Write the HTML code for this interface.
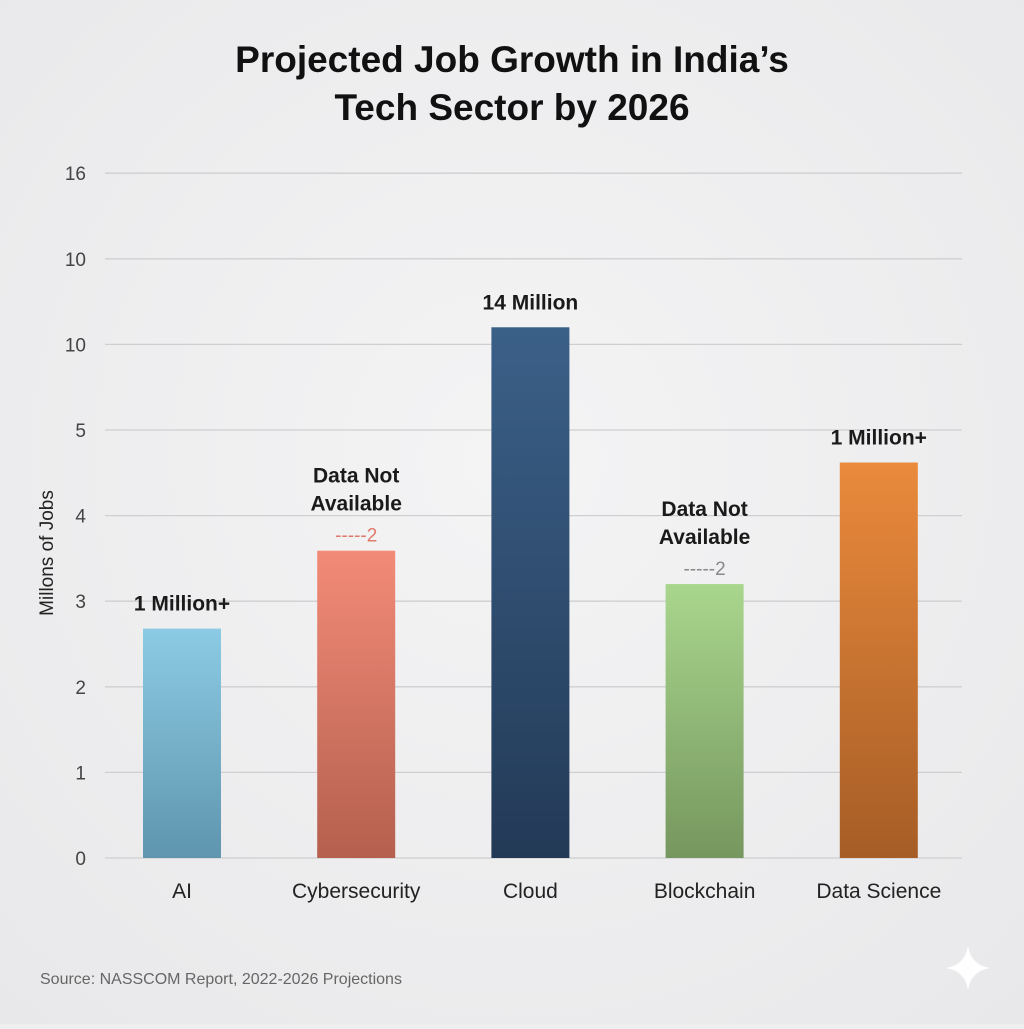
<!DOCTYPE html>
<html><head><meta charset="utf-8"><style>
body{margin:0;width:1024px;height:1024px;background:#efeff0;font-family:"Liberation Sans",sans-serif;overflow:hidden}
</style></head><body>
<svg width="1024" height="1024" id="c">
<defs>
<radialGradient id="bg" cx="50%" cy="45%" r="75%"><stop offset="0" stop-color="#f4f4f5"/><stop offset="1" stop-color="#e8e8ea"/></radialGradient>
<linearGradient id="g0" x1="0" y1="0" x2="0" y2="1"><stop offset="0" stop-color="#8ccbe4"/><stop offset="1" stop-color="#5f95ae"/></linearGradient>
<linearGradient id="g1" x1="0" y1="0" x2="0" y2="1"><stop offset="0" stop-color="#f28b77"/><stop offset="1" stop-color="#b5604f"/></linearGradient>
<linearGradient id="g2" x1="0" y1="0" x2="0" y2="1"><stop offset="0" stop-color="#3b6088"/><stop offset="1" stop-color="#233a57"/></linearGradient>
<linearGradient id="g3" x1="0" y1="0" x2="0" y2="1"><stop offset="0" stop-color="#a9d68d"/><stop offset="1" stop-color="#76975f"/></linearGradient>
<linearGradient id="g4" x1="0" y1="0" x2="0" y2="1"><stop offset="0" stop-color="#ea8a3c"/><stop offset="1" stop-color="#a65d26"/></linearGradient>
</defs>
<rect width="1024" height="1024" fill="url(#bg)"/>
<text x="512" y="72" text-anchor="middle" font-size="37" font-weight="bold" fill="#111">Projected Job Growth in India’s</text>
<text x="512" y="120" text-anchor="middle" font-size="37" font-weight="bold" fill="#111">Tech Sector by 2026</text>
<text transform="translate(53,553) rotate(-90)" text-anchor="middle" font-size="19" fill="#222">Millons of Jobs</text>
<g id="grid"></g><g id="bars"></g>
<text x="40" y="984" font-size="16" fill="#666">Source: NASSCOM Report, 2022-2026 Projections</text>
<path d="M968 946 Q971 965 990 968 Q971 971 968 990 Q965 971 946 968 Q965 965 968 946Z" fill="#fff"/>
</svg>
<script>
const tickLabels=["0","1","2","3","4","5","10","10","16"];
const categories=["AI","Cybersecurity","Cloud","Blockchain","Data Science"];
const values=[2.68,3.59,6.2,3.2,4.62];
const valueLabels=[["1 Million+"],["Data Not","Available"],["14 Million"],["Data Not","Available"],["1 Million+"]];
const dashLabels=["","-----2","","-----2",""];
const NS="http://www.w3.org/2000/svg";
function y(v){return 858-v*85.6;}
function x(i){return 182+i*174.2;}
function mk(t,a,p,txt){const e=document.createElementNS(NS,t);for(const k in a)e.setAttribute(k,a[k]);if(txt!=null)e.textContent=txt;p.appendChild(e);return e;}
const grid=document.getElementById('grid'),bars=document.getElementById('bars');
tickLabels.forEach((t,i)=>{
 const l=mk('line',{x1:105,x2:962,y1:y(i),y2:y(i),stroke:'#cfcfd2','stroke-width':1.3},grid);
 
 
 const tx=mk('text',{x:86,y:y(i)+7,'font-size':19,fill:'#444','text-anchor':'end'},grid,t);
 
 
});
const dashColors=["","#e07a6a","","#888",""];
categories.forEach((c,i)=>{
 const cx=x(i),top=y(values[i]);
 const r=mk('rect',{x:cx-39,y:top,width:78,height:858-top,fill:'url(#g'+i+')'},bars);
 
 
 const cl=mk('text',{x:cx,y:898,'text-anchor':'middle','font-size':21,fill:'#222'},bars,c);
 
 
 const lines=valueLabels[i];const hasDash=dashLabels[i]!=="";
 const base=hasDash?top-40:top-18;
 lines.forEach((s,j)=>{
  const t=mk('text',{x:cx,y:base-(lines.length-1-j)*28,'text-anchor':'middle','font-size':21,'font-weight':'bold',fill:'#1a1a1a'},bars,s);
  
  
 });
 if(hasDash){
  const d=mk('text',{x:cx,y:top-9,'text-anchor':'middle','font-size':19,fill:dashColors[i]},bars,dashLabels[i]);
  
  
 }
});
</script>
</body></html>
